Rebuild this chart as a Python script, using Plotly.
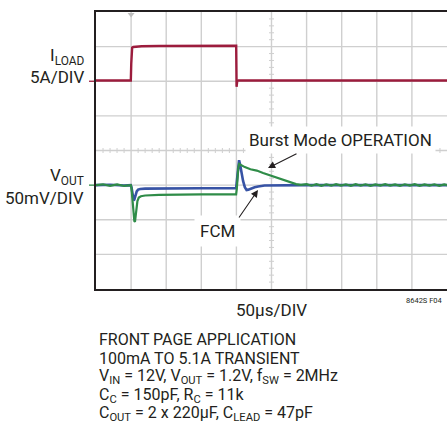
import plotly.graph_objects as go

# ---- scope trace data -------------------------------------------------------
# time axis in microseconds (50us/DIV, 10 divisions)
t_iload = [0, 49.6, 50.2, 50.8, 51.5, 53, 56, 65, 90, 130, 199.7, 200.0, 200.25, 200.6, 201.2, 203, 300, 500]
i_load = [0.1, 0.1, 2.5, 4.6, 4.85, 4.95, 5.0, 5.05, 5.08, 5.1, 5.12, 2.0, -0.8, 0.2, 0.05, 0.1, 0.1, 0.1]   # A

# output voltage deviation in mV, forced continuous mode
t_fcm = [0, 20, 40, 49.6, 50.6, 51.6, 52.6, 53.6, 54.6, 56, 58, 60, 63, 70, 100, 150, 199.6,
         200.6, 201.6, 202.6, 203.8, 205.2, 207, 209.5, 212, 214.5, 217, 221, 226, 231, 240, 300, 400, 500]
v_fcm = [0, 0.5, -0.5, 0, -3, -10, -18, -22, -21, -15, -9, -6.5, -5.5, -5, -4.5, -4.5, -4.5,
         6, 22, 32, 36, 30, 18, 6, -3, -7, -6.5, -4.5, -3, -2, -0.5, 0, 0, 0]

# output voltage deviation in mV, Burst Mode operation
t_burst = [0, 10, 20, 30, 40, 49.6, 50.6, 51.6, 52.6, 53.6, 54.6, 55.5, 56.5, 57.5, 59, 61, 64, 70, 90, 150, 199.6,
           200.6, 201.6, 202.6, 203.8, 206, 212, 220, 229, 238, 248, 256, 264, 272, 278, 285, 292,
           300, 307, 314, 321, 328, 335, 342, 349, 356, 363, 370, 377, 384, 391, 398, 405, 412, 419,
           426, 433, 440, 447, 454, 461, 468, 475, 482, 489, 496, 500]
v_burst = [0, 1.2, -1, 1, -1.2, 0, -5, -18, -33, -46, -52, -53, -44, -32, -23, -18, -16, -15, -14, -13.5, -13.5,
           -5, 12, 24, 30.5, 29, 26, 23, 21, 17.5, 14, 11, 8, 5, 3, 1.5, 0.5,
           1.5, -0.8, 1.4, -1, 1.2, -0.8, 1.5, -0.6, 1.2, -1, 1.3, -0.8, 1.2, -1, 1, -0.6, 1.3, -0.8,
           1.1, -1, 1.2, -0.7, 1.3, -1, 1, -0.8, 1.2, -0.9, 1, 0]

# graticule: 10 x 8 divisions
x_div_lines = [50, 100, 150, 200, 250, 300, 350, 400, 450]
y_div_lines = [1, 2, 3, 4, 5, 6, 7]

# channel scaling: 5A/DIV and 50mV/DIV, channel references in divisions
ILOAD_REF_DIV, ILOAD_SCALE = 6.0, 5.0
VOUT_REF_DIV, VOUT_SCALE = 3.0, 50.0

RED = "#9c1c3d"
BLUE = "#3753a5"
GREEN = "#2f8c48"
GRID = "#cfcfcf"
INK = "#231f20"
FONT = "Liberation Sans Narrow, Arial Narrow, Roboto, sans-serif"

W, H = 447, 436
L, R, T, B = 96, 0, 12, 147
PW, PH = W - L - R, H - T - B


def px(x):
    return (x - L) / PW


def py(y):
    return (H - B - y) / PH


fig = go.Figure()

shapes = []
# graticule lines
for xv in x_div_lines:
    shapes.append(dict(type="line", xref="x", yref="paper", x0=xv, x1=xv, y0=0, y1=1,
                       layer="below", line=dict(color=GRID, width=1.4)))
for yv in y_div_lines:
    shapes.append(dict(type="line", xref="paper", yref="y", x0=0, x1=1, y0=yv, y1=yv,
                       layer="below", line=dict(color=GRID, width=1.4)))
# minor ticks along the centre crosshair (5 per division)
for k in range(1, 50):
    if k % 5:
        shapes.append(dict(type="line", xref="x", yref="y", x0=k * 10, x1=k * 10, y0=-2.5, y1=2.5,
                           ysizemode="pixel", yanchor=4, layer="below",
                           line=dict(color=GRID, width=1)))
for k in range(1, 40):
    if k % 5:
        shapes.append(dict(type="line", xref="x", yref="y", x0=-2.5, x1=2.5, y0=k * 0.2, y1=k * 0.2,
                           xsizemode="pixel", xanchor=250, layer="below",
                           line=dict(color=GRID, width=1)))

# channel reference markers left of the graticule
shapes.append(dict(type="line", xref="paper", yref="y", x0=px(89), x1=px(94),
                   y0=ILOAD_REF_DIV, y1=ILOAD_REF_DIV, line=dict(color=RED, width=1.3)))
shapes.append(dict(type="line", xref="paper", yref="y", x0=px(89), x1=px(94),
                   y0=VOUT_REF_DIV, y1=VOUT_REF_DIV, line=dict(color=GREEN, width=1.3)))

fig.add_trace(go.Scatter(
    x=t_iload, y=[ILOAD_REF_DIV + v / ILOAD_SCALE for v in i_load],
    mode="lines", line=dict(color=RED, width=2.4), hoverinfo="skip"))
fig.add_trace(go.Scatter(
    x=t_fcm, y=[VOUT_REF_DIV + v / VOUT_SCALE for v in v_fcm],
    mode="lines", line=dict(color=BLUE, width=2.6), hoverinfo="skip"))
fig.add_trace(go.Scatter(
    x=t_burst, y=[VOUT_REF_DIV + v / VOUT_SCALE for v in v_burst],
    mode="lines", line=dict(color=GREEN, width=2.2), hoverinfo="skip"))

# trigger position marker at the top edge
fig.add_trace(go.Scatter(
    x=[50], y=[7.93], mode="markers", cliponaxis=False,
    marker=dict(symbol="triangle-down", size=6, color="#bdbdbd"), hoverinfo="skip"))

ann = []


def label(text, x, y, size=17, xanchor="center", bg=None, pad=2, color=INK):
    d = dict(text=text, xref="paper", yref="paper", x=px(x), y=py(y), showarrow=False,
             xanchor=xanchor, yanchor="middle", font=dict(family=FONT, size=size, color=color))
    if bg:
        d.update(bgcolor=bg, borderpad=pad)
    ann.append(d)


label("I<sub>LOAD</sub>", 86, 56, xanchor="right")
label("5A/DIV", 86, 77, xanchor="right")
label("V<sub>OUT</sub>", 86, 176, xanchor="right")
label("50mV/DIV", 86, 198, xanchor="right")
label("Burst Mode OPERATION", 340, 140, bg="white", pad=3)
label("FCM", 217, 231, bg="white", pad=5)
label("50µs/DIV", 271, 310)
label("8642S F04", 424, 300, size=7.5)

lines = [
    "FRONT PAGE APPLICATION",
    "100mA TO 5.1A TRANSIENT",
    "V<sub>IN</sub> = 12V, V<sub>OUT</sub> = 1.2V, f<sub>SW</sub> = 2MHz",
    "C<sub>C</sub> = 150pF, R<sub>C</sub> = 11k",
    "C<sub>OUT</sub> = 2 x 220µF, C<sub>LEAD</sub> = 47pF",
]
for i, s in enumerate(lines):
    label(s, 97, 339.5 + i * 18.6, size=16, xanchor="left")

# pointer arrows
for tip, tail in [((268, 168), (298, 153)), ((258, 190), (238, 219))]:
    ann.append(dict(text="", xref="paper", yref="paper", x=px(tip[0]), y=py(tip[1]),
                    ax=tail[0] - tip[0], ay=tail[1] - tip[1], showarrow=True,
                    arrowhead=2, arrowsize=1.3, arrowwidth=1.1, arrowcolor=INK, standoff=0))

fig.update_layout(
    width=W, height=H, margin=dict(l=L, r=R, t=T, b=B),
    paper_bgcolor="white", plot_bgcolor="white", showlegend=False,
    shapes=shapes, annotations=ann,
    xaxis=dict(range=[0, 500], showgrid=False, showticklabels=False, ticks="",
               zeroline=False, fixedrange=True,
               showline=True, mirror=True, linecolor=INK, linewidth=2),
    yaxis=dict(range=[0, 8], showgrid=False, showticklabels=False, ticks="",
               zeroline=False, fixedrange=True,
               showline=True, mirror=False, linecolor=INK, linewidth=2),
)

fig.write_html("out.html")
